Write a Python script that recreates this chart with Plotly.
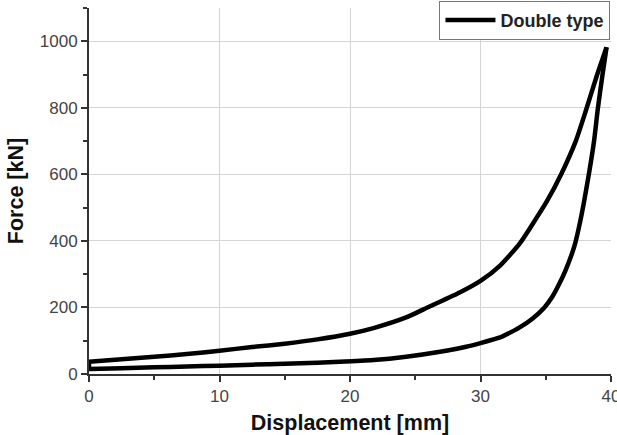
import plotly.graph_objects as go

# Loading branch (upper curve): displacement [mm] -> force [kN]
upper_x = [0, 2.5, 5, 7.5, 10, 12.5, 15, 17.5, 20, 21.8, 24.3, 26.1, 28.4, 30,
           31.5, 33.0, 33.9, 35.1, 36.2, 37.3, 38.1, 38.9, 39.66]
upper_f = [37, 44, 52, 60, 70, 81, 91, 104, 121, 138, 170, 203, 245, 280,
           326, 392, 445, 520, 602, 700, 795, 895, 982]

# Unloading branch (lower curve), from the peak back to zero
lower_x = [39.66, 39.35, 39.0, 38.7, 38.3, 37.7, 37.2, 36.5, 36.0, 35.5, 34.9,
           34.0, 33.0, 32.2, 31.5, 30, 28.9, 26.9, 24.3, 21.8, 19.2, 17.5, 15,
           12.5, 10, 7.5, 5, 2.5, 0]
lower_f = [982, 900, 800, 700, 600, 470, 385, 310, 268, 232, 200,
           167, 140, 123, 110, 93, 82, 67, 52, 42, 36.5, 34, 31,
           28, 25, 22.5, 20, 17.5, 15]

series_name = "Double type"
x_ticks = [0, 10, 20, 30, 40]
y_ticks = [0, 200, 400, 600, 800, 1000]

FONT = "Liberation Sans, Arial, sans-serif"
LINE = dict(color="black", width=4.5, shape="spline", smoothing=0.6)

fig = go.Figure()
fig.add_trace(go.Scatter(
    x=upper_x, y=upper_f, mode="lines", name="<b>" + series_name + "</b>",
    legendgroup="g", line=LINE, showlegend=True,
))
fig.add_trace(go.Scatter(
    x=lower_x, y=lower_f, mode="lines", name="<b>" + series_name + "</b>",
    legendgroup="g", line=LINE, showlegend=False,
))
# closing edge of the loop at zero displacement
fig.add_trace(go.Scatter(
    x=[lower_x[-1], upper_x[0]], y=[lower_f[-1], upper_f[0]], mode="lines",
    legendgroup="g", line=dict(color="black", width=4.5), showlegend=False,
))

axis_common = dict(
    showline=True, linecolor="#333333", linewidth=2,
    ticks="outside", ticklen=6, tickwidth=1.5, tickcolor="#333333",
    showgrid=True, gridcolor="#d4d4d4", gridwidth=1,
    zeroline=False, mirror=False, automargin=False,
    tickfont=dict(family=FONT, size=17, color="#444444"),
)

fig.update_xaxes(
    range=[0, 40], tickvals=x_ticks, ticklabeloverflow="allow",
    minor=dict(dtick=5, tick0=0, ticks="outside", ticklen=4, tickwidth=1.5,
               tickcolor="#333333", showgrid=False),
    title=dict(text="<b>Displacement [mm]</b>", standoff=24,
               font=dict(family=FONT, size=21.5, color="#111111")),
    **axis_common,
)
fig.update_yaxes(
    range=[0, 1100], tickvals=y_ticks,
    minor=dict(dtick=100, tick0=0, ticks="outside", ticklen=4, tickwidth=1.5,
               tickcolor="#333333", showgrid=False),
    title=dict(text="<b>Force [kN]</b>", standoff=10,
               font=dict(family=FONT, size=21.5, color="#111111")),
    **axis_common,
)

fig.update_layout(
    width=617, height=435,
    margin=dict(l=89, r=6, t=8, b=61, autoexpand=False),
    plot_bgcolor="white", paper_bgcolor="white",
    legend=dict(
        x=0.999, y=1.02, xanchor="right", yanchor="top",
        bgcolor="white", bordercolor="#777777", borderwidth=1,
        font=dict(family=FONT, size=18, color="#222222"),
        itemwidth=50, tracegroupgap=0,
    ),
)

fig.write_html("out.html")
